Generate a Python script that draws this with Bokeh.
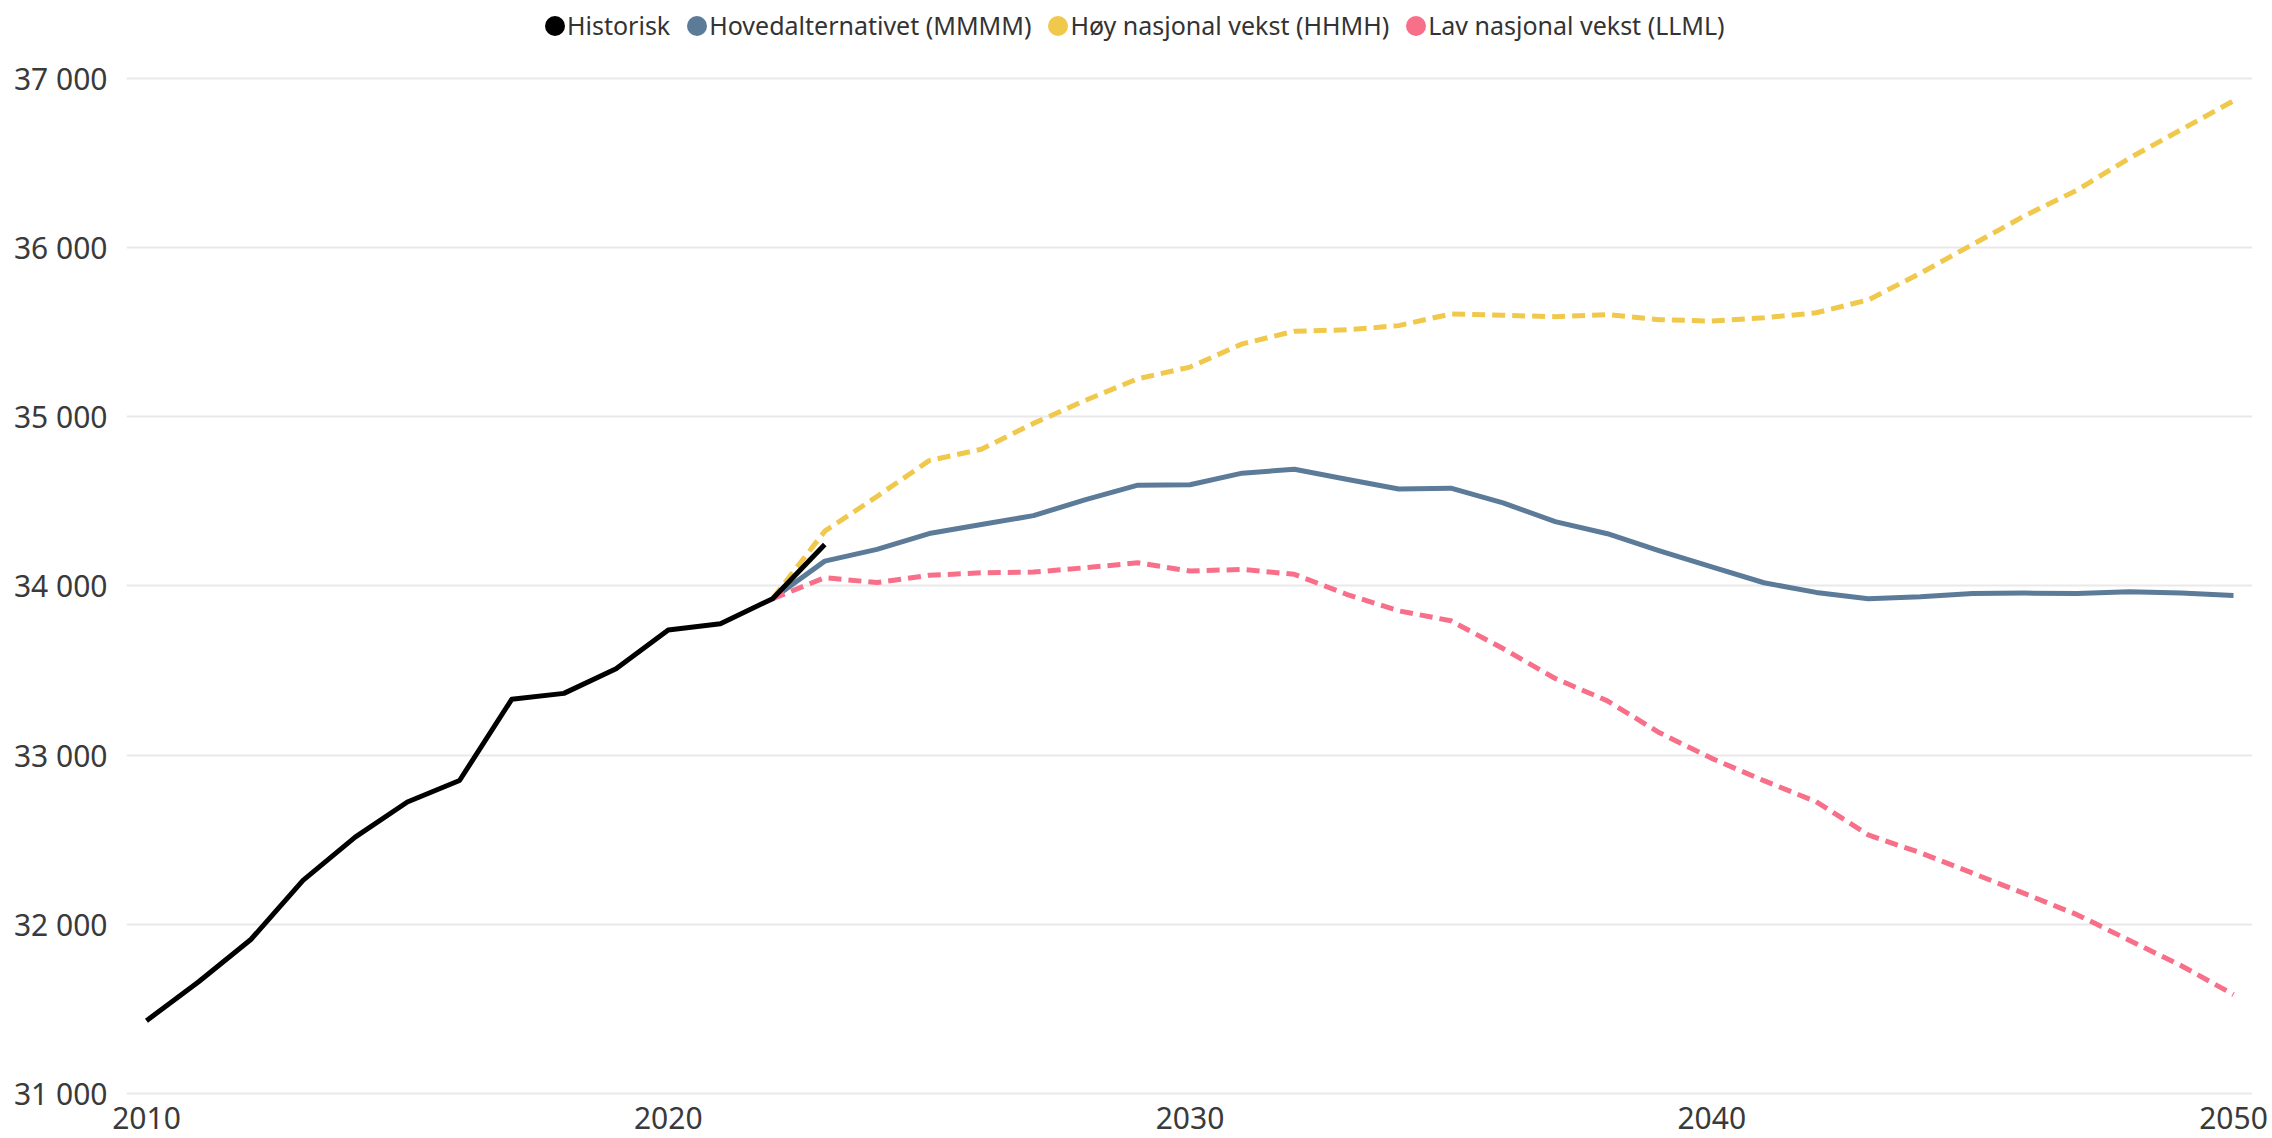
from bokeh.plotting import figure
from bokeh.models import Legend, LegendItem, FixedTicker, Range1d
from bokeh.embed import file_html
from bokeh.resources import INLINE

# ---- data ----
hist_years = list(range(2010, 2024))
historisk = [31430, 31660, 31910, 32260, 32515, 32723, 32850, 33330, 33365, 33510, 33740, 33777, 33925, 34245]

proj_years = list(range(2022, 2051))
hoved = [33925, 34147, 34216, 34310, 34363, 34416, 34510, 34596, 34598, 34667, 34690, 34631, 34573, 34578,
         34491, 34380, 34309, 34208, 34113, 34019, 33962, 33925, 33936, 33955, 33958, 33955, 33966, 33958, 33943]
hoy = [33925, 34324, 34529, 34741, 34808, 34961, 35098, 35225, 35294, 35431, 35506, 35514, 35539, 35608,
       35600, 35592, 35604, 35574, 35566, 35585, 35615, 35691, 35849, 36019, 36189, 36340, 36528, 36698, 36868]
lav = [33925, 34049, 34020, 34063, 34078, 34082, 34108, 34137, 34088, 34098, 34069, 33951, 33853, 33794,
       33630, 33453, 33321, 33132, 32981, 32849, 32725, 32528, 32423, 32302, 32181, 32057, 31906, 31755, 31585]

series_names = ["Historisk", "Hovedalternativet (MMMM)", "Høy nasjonal vekst (HHMH)", "Lav nasjonal vekst (LLML)"]
colors = ["#000000", "#5b7b99", "#f0c84b", "#f76f89"]

x_ticks = [2010, 2020, 2030, 2040, 2050]
y_ticks = [31000, 32000, 33000, 34000, 35000, 36000, 37000]
y_tick_labels = ["31 000", "32 000", "33 000", "34 000", "35 000", "36 000", "37 000"]

FONT = "Noto Sans"

p = figure(width=2272, height=1138, output_backend="svg", toolbar_location=None,
           x_range=Range1d(2009.617, 2050.364), y_range=Range1d(30982, 37461),
           min_border_left=126, min_border_right=20, min_border_top=0, min_border_bottom=42)
p.outline_line_color = None
p.background_fill_color = "white"
p.border_fill_color = "white"

p.xgrid.grid_line_color = None
p.ygrid.grid_line_color = "#e9e9ec"
p.ygrid.grid_line_width = 2

p.xaxis.ticker = FixedTicker(ticks=x_ticks)
p.yaxis.ticker = FixedTicker(ticks=y_ticks)
p.yaxis.major_label_overrides = {t: l for t, l in zip(y_ticks, y_tick_labels)}
for ax in (p.xaxis, p.yaxis):
    ax.axis_line_color = None
    ax.major_tick_line_color = None
    ax.major_tick_out = 0
    ax.major_tick_in = 0
    ax.minor_tick_line_color = None
    ax.major_label_text_font = FONT
    ax.major_label_text_font_size = "30px"
    ax.major_label_text_color = "#3a3a3a"
p.xaxis.major_label_standoff = 10
p.yaxis.major_label_standoff = 19

r_hoved = p.line(proj_years, hoved, line_color=colors[1], line_width=5, line_join="round")
r_hoy = p.line(proj_years, hoy, line_color=colors[2], line_width=5, line_dash="13 7", line_join="round")
r_lav = p.line(proj_years, lav, line_color=colors[3], line_width=5, line_dash="13 7", line_join="round")
r_hist = p.line(hist_years, historisk, line_color=colors[0], line_width=5, line_join="round")

# legend dots: vanishingly small round ellipses on each series' first point;
# the legend draws them as circles sized from the glyph box
series_x = [hist_years, proj_years, proj_years, proj_years]
series_y = [historisk, hoved, hoy, lav]
items = []
for name, c, xs, ys in zip(series_names, colors, series_x, series_y):
    r = p.ellipse(xs[:1], ys[:1], width=0.001, height=0.001, width_units="screen", height_units="screen",
                  fill_color=c, line_color=None)
    items.append(LegendItem(label=name, renderers=[r]))

legend = Legend(items=items, orientation="horizontal", location=(416, 1054),
                glyph_width=25, glyph_height=25, label_standoff=0, spacing=14,
                padding=0, margin=0, border_line_color=None, background_fill_alpha=0,
                label_text_font=FONT, label_text_font_size="25px", label_text_color="#333333")
p.add_layout(legend, "center")

open("out.html", "w").write(file_html(p, INLINE))
